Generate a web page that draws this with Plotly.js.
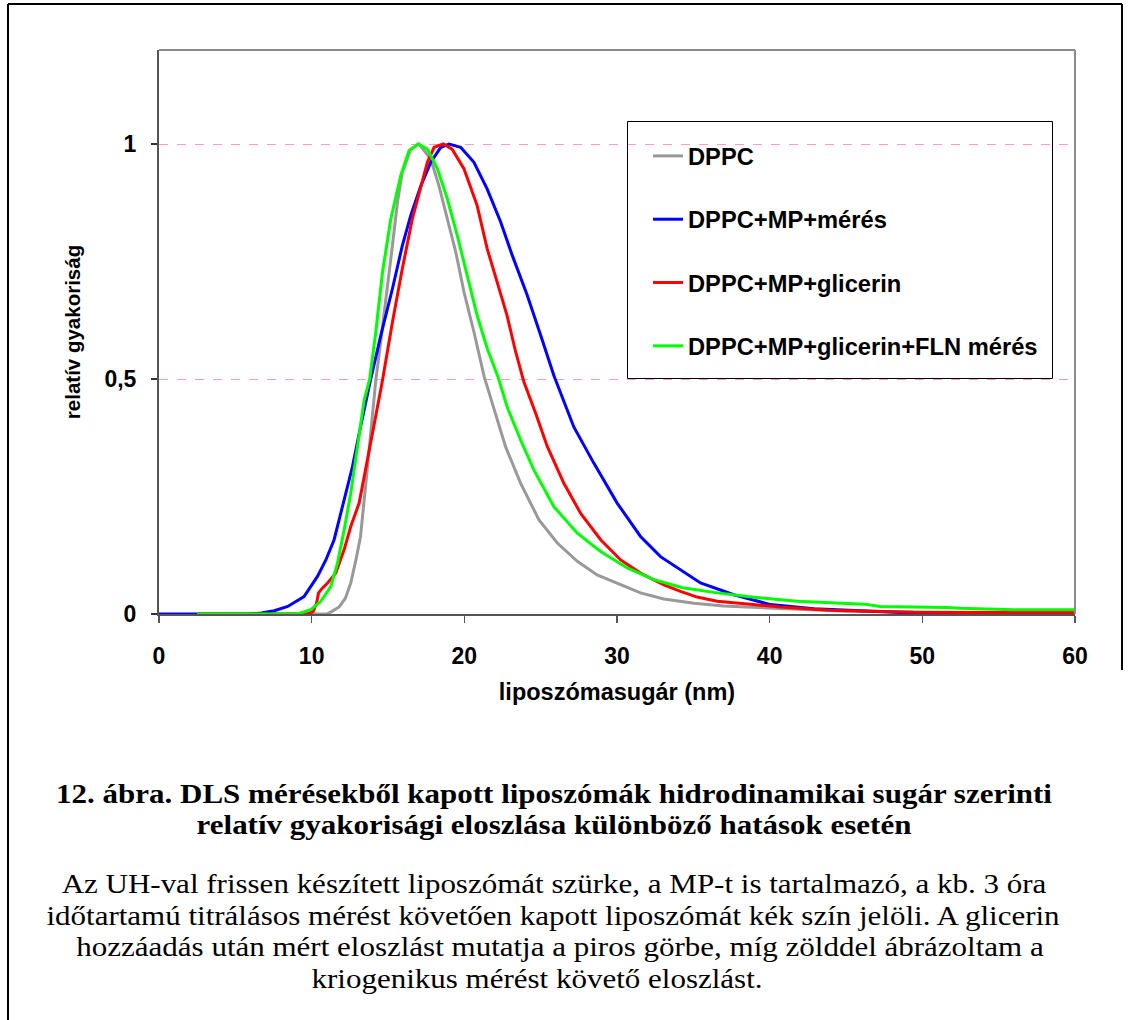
<!DOCTYPE html>
<html>
<head>
<meta charset="utf-8">
<script src="https://cdn.plot.ly/plotly-3.0.1.min.js"></script>
<style>
  html, body { margin: 0; padding: 0; background: #ffffff; }
  #page { position: relative; width: 1130px; height: 1020px; overflow: hidden; }
  #chart { position: absolute; left: 0; top: 0; width: 1130px; height: 1020px; }
  .cap {
    position: absolute; width: 1100px; text-align: center; white-space: nowrap;
    font-family: 'Liberation Serif', 'Times New Roman', serif;
    color: #000000; pointer-events: none; overflow: visible;
    transform-origin: 50% 50%;
  }
  .cap.bold { font-weight: 700; font-size: 27.5px; line-height: 30.4px; height: 30.4px; transform: scaleX(1.127); }
  .cap.body { font-weight: 400; font-size: 28px; line-height: 31px; height: 31px; transform: scaleX(1.107); }
</style>
</head>
<body>
<div id="page">
  <div id="chart"></div>
</div>
<script>
// Liposome radius (nm) vs. relative frequency, four DLS measurements
const seriesNames = ['DPPC', 'DPPC+MP+mérés', 'DPPC+MP+glicerin', 'DPPC+MP+glicerin+FLN mérés'];
const seriesColors = ['#999999', '#0000ff', '#ff0000', '#00ff00'];

const dppcX = [2.5, 10.6, 11.0, 11.3, 11.8, 12.2, 12.56, 12.9, 13.2, 13.55, 13.87, 14.2, 14.42, 14.86, 15.29, 15.62, 15.94, 16.49, 17.03, 17.8, 18.34, 18.89, 19.44, 19.98, 20.63, 21.3, 21.82, 22.7, 23.69, 24.89, 26.09, 27.4, 28.7, 30.24, 31.54, 33.07, 35.03, 37.0, 39.0, 42, 45, 50, 55, 60];
const dppcY = [0, 0, 0, 0.005, 0.015, 0.033, 0.066, 0.115, 0.165, 0.278, 0.384, 0.497, 0.553, 0.664, 0.784, 0.876, 0.94, 0.989, 1.0, 0.968, 0.911, 0.84, 0.77, 0.685, 0.6, 0.505, 0.448, 0.356, 0.278, 0.2, 0.151, 0.112, 0.083, 0.062, 0.045, 0.032, 0.023, 0.017, 0.014, 0.009, 0.006, 0.004, 0.003, 0.003];

const mpX = [0, 6.0, 6.7, 7.55, 8.43, 9.5, 10.38, 10.93, 11.47, 12.13, 12.67, 13.11, 13.66, 13.87, 14.53, 15.29, 15.94, 16.49, 17.15, 17.8, 18.46, 19.0, 19.76, 20.63, 21.5, 22.38, 23.14, 24.12, 25.0, 25.87, 27.17, 28.48, 30.01, 31.54, 32.85, 34.3, 35.47, 37.65, 40.05, 42.9, 46.2, 49.4, 55, 60];
const mpY = [0, 0, 0.002, 0.007, 0.016, 0.037, 0.08, 0.115, 0.158, 0.243, 0.313, 0.384, 0.47, 0.5, 0.593, 0.692, 0.784, 0.848, 0.911, 0.961, 0.993, 1.0, 0.993, 0.961, 0.904, 0.834, 0.763, 0.678, 0.593, 0.507, 0.398, 0.321, 0.236, 0.165, 0.122, 0.09, 0.066, 0.041, 0.02, 0.011, 0.006, 0.002, 0.001, 0.001];

const glicX = [2.5, 9.7, 10.1, 10.32, 10.45, 10.7, 11.04, 11.58, 12.13, 12.56, 13.11, 13.55, 13.99, 14.6, 15.29, 15.94, 16.59, 17.15, 17.58, 18.02, 18.62, 19.2, 19.98, 20.84, 21.5, 22.15, 22.8, 23.36, 23.9, 24.67, 25.44, 26.52, 27.62, 28.93, 30.24, 31.54, 33.07, 34.16, 35.25, 36.56, 38.96, 40.7, 43.98, 49.4, 55, 60];
const glicY = [0, 0, 0.005, 0.023, 0.045, 0.055, 0.066, 0.087, 0.137, 0.186, 0.236, 0.313, 0.384, 0.49, 0.621, 0.735, 0.84, 0.911, 0.961, 0.993, 1.0, 0.989, 0.947, 0.869, 0.777, 0.706, 0.635, 0.558, 0.494, 0.427, 0.356, 0.278, 0.214, 0.158, 0.115, 0.087, 0.062, 0.048, 0.036, 0.027, 0.02, 0.015, 0.008, 0.0035, 0.003, 0.003];

const flnX = [2.5, 9.07, 9.94, 10.6, 11.26, 11.69, 12.13, 12.56, 13.0, 13.44, 13.8, 14.2, 14.64, 15.18, 15.84, 16.38, 16.97, 17.58, 18.24, 18.89, 19.54, 20.19, 20.84, 21.5, 22.2, 22.8, 23.69, 24.56, 25.87, 27.4, 28.93, 30.67, 32.41, 34.3, 36.34, 38.53, 41.8, 46.2, 47.25, 51.6, 52.5, 56, 60];
const flnY = [0, 0, 0.009, 0.027, 0.059, 0.108, 0.179, 0.257, 0.356, 0.455, 0.5, 0.6, 0.727, 0.84, 0.933, 0.986, 1.0, 0.989, 0.947, 0.883, 0.805, 0.72, 0.635, 0.565, 0.505, 0.441, 0.37, 0.306, 0.228, 0.172, 0.133, 0.098, 0.073, 0.056, 0.046, 0.037, 0.027, 0.021, 0.016, 0.014, 0.012, 0.009, 0.009];

const xTickVals = [0, 10, 20, 30, 40, 50, 60];
const yTickVals = [0, 0.5, 1];
const yTickText = ['0', '0,5', '1'];

const xTitle = 'liposzómasugár (nm)';
const yTitle = 'relatív gyakoriság';

const captionBold = [
  '12. ábra. DLS mérésekből kapott liposzómák hidrodinamikai sugár szerinti',
  'relatív gyakorisági eloszlása különböző hatások esetén'
];
const captionBody = [
  'Az UH-val frissen készített liposzómát szürke, a MP-t is tartalmazó, a kb. 3 óra',
  'időtartamú titrálásos mérést követően kapott liposzómát kék szín jelöli. A glicerin',
  'hozzáadás után mért eloszlást mutatja a piros görbe, míg zölddel ábrázoltam a',
  'kriogenikus mérést követő eloszlást.'
];

// page geometry
const W = 1130, H = 1020;
const M = { l: 159, r: 55, t: 50, b: 406 };
const PW = W - M.l - M.r, PH = H - M.t - M.b;
const px = x => (x - M.l) / PW;          // pixel x -> paper x
const py = y => (H - M.b - y) / PH;      // pixel y -> paper y

const SANS = 'Liberation Sans, Arial, sans-serif';

const xs = [dppcX, mpX, glicX, flnX];
const ys = [dppcY, mpY, glicY, flnY];

const traces = seriesNames.map((name, i) => ({
  type: 'scatter',
  mode: 'lines',
  name: name,
  x: xs[i],
  y: ys[i],
  line: { color: seriesColors[i], width: 3 },
  legendgroup: 'g' + i,
  hoverinfo: 'skip'
}));

const shapes = [
  // plot area frame (top and right)
  { type: 'line', xref: 'paper', yref: 'paper', x0: 0, x1: 1, y0: 1, y1: 1, line: { color: '#8c8c8c', width: 2 } },
  { type: 'line', xref: 'paper', yref: 'paper', x0: 1, x1: 1, y0: 0, y1: 1, line: { color: '#8c8c8c', width: 2 } },
  // legend box
  { type: 'rect', xref: 'paper', yref: 'paper', x0: px(627.5), x1: px(1052.5), y0: py(378.5), y1: py(121.5),
    line: { color: '#000000', width: 1 }, fillcolor: 'rgba(0,0,0,0)' },
  // outer page frame
  { type: 'line', xref: 'paper', yref: 'paper', x0: px(8), x1: px(8), y0: py(4), y1: py(1020), line: { color: '#000000', width: 2 } },
  { type: 'line', xref: 'paper', yref: 'paper', x0: px(8), x1: px(1122), y0: py(4), y1: py(4), line: { color: '#000000', width: 2 } },
  { type: 'line', xref: 'paper', yref: 'paper', x0: px(1122), x1: px(1122), y0: py(4), y1: py(670), line: { color: '#000000', width: 2 } }
];

const layout = {
  width: W, height: H,
  margin: M,
  paper_bgcolor: '#ffffff',
  plot_bgcolor: '#ffffff',
  showlegend: true,
  legend: {
    x: px(648), y: py(134), xanchor: 'left', yanchor: 'top',
    bgcolor: 'rgba(0,0,0,0)', borderwidth: 0,
    font: { family: SANS, size: 23.7, color: '#000000', weight: 700 },
    traceorder: 'grouped', tracegroupgap: 29.5
  },
  xaxis: {
    range: [0, 60], tickvals: xTickVals, ticktext: xTickVals.map(String),
    showgrid: false, zeroline: false,
    showline: true, linecolor: '#555555', linewidth: 2,
    ticks: 'outside', ticklen: 7, tickwidth: 1.5, tickcolor: '#555555',
    ticklabelstandoff: 13,
    tickfont: { family: SANS, size: 23, color: '#000000', weight: 700 },
    title: { text: xTitle, standoff: 16, font: { family: SANS, size: 23.5, color: '#000000', weight: 700 } }
  },
  yaxis: {
    range: [0, 1.2], tickvals: yTickVals, ticktext: yTickText,
    showgrid: true, gridcolor: '#ff99cc', gridwidth: 1, griddash: 'dash',
    zeroline: false,
    showline: true, linecolor: '#555555', linewidth: 2,
    ticks: 'outside', ticklen: 6, tickwidth: 1.5, tickcolor: '#333333',
    ticklabelstandoff: 10,
    tickfont: { family: SANS, size: 23, color: '#000000', weight: 700 },
    title: { text: yTitle, standoff: 18, font: { family: SANS, size: 20.5, color: '#000000', weight: 700 } }
  },
  shapes: shapes
};

Plotly.newPlot('chart', traces, layout, { staticPlot: true, displayModeBar: false });

// figure caption below the chart, one positioned line each
const page = document.getElementById('page');
function addCaptionLine(text, cls, centerX, top) {
  const d = document.createElement('div');
  d.className = 'cap ' + cls;
  d.style.left = (centerX - 550) + 'px';
  d.style.top = top + 'px';
  d.textContent = text;
  page.appendChild(d);
}
const boldCenters = [554, 554];
const boldTops = [778.5, 809.5];
captionBold.forEach((t, i) => addCaptionLine(t, 'bold', boldCenters[i], boldTops[i]));
const bodyCenters = [553.5, 552.5, 559.5, 537];
const bodyTops = [868, 899.5, 931, 962.5];
captionBody.forEach((t, i) => addCaptionLine(t, 'body', bodyCenters[i], bodyTops[i]));
</script>
</body>
</html>
